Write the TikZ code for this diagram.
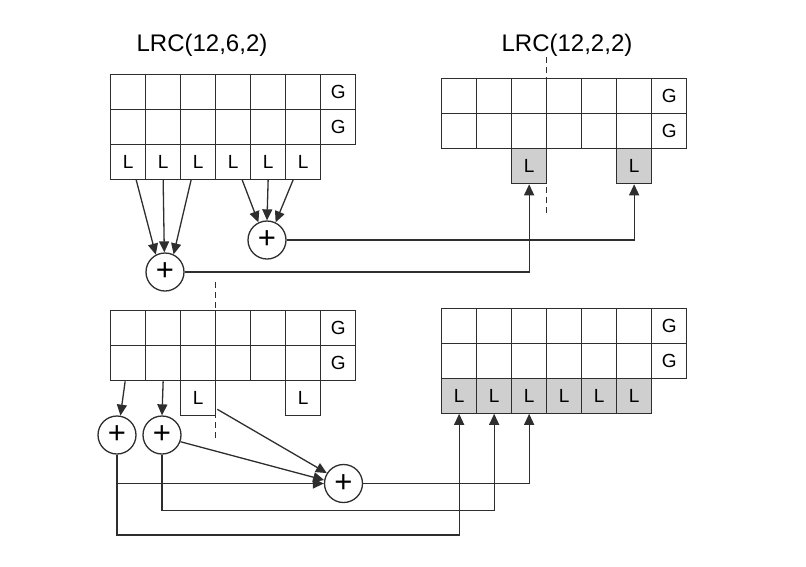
\documentclass[tikz,border=0pt]{standalone}
\usepackage{fontspec}
\setmainfont{Liberation Sans}
\usetikzlibrary{arrows.meta,calc}
\begin{document}
\begin{tikzpicture}[x=1pt,y=-1pt,
  cellbox/.style={draw=black!82, line width=1.3pt, minimum size=35pt, inner sep=0pt, font=\fontsize{19}{19}\selectfont, anchor=north west},
  shaded/.style={fill=black!19},
  xor/.style={circle, draw=black!82, fill=white, line width=1.3pt, minimum size=38pt, inner sep=0pt, font=\fontsize{31}{31}\selectfont},
  arr/.style={draw=black!82, line width=1.3pt, -{Triangle[length=11pt,width=10pt]}},
  cut/.style={draw=black!82, line width=1pt, dash pattern=on 6pt off 4pt},
  title/.style={font=\fontsize{24}{24}\selectfont}
]
\useasboundingbox (0,0) rectangle (806,566);

% titles
\node[title] (t1) at (202,45) {LRC(12,6,2)};
\node[title] (t2) at (567,45) {LRC(12,2,2)};

% top-left grid
\foreach \r in {1,2}
  \foreach \c in {1,...,7}
    \node[cellbox] (a\r\c) at ({110+35*(\c-1)},{73.5+35*(\r-1)}) {\ifnum\c=7 G\fi};
\foreach \c in {1,...,6}
  \node[cellbox] (aL\c) at ({110+35*(\c-1)},143.5) {L};

% top-right grid
\foreach \r in {1,2}
  \foreach \c in {1,...,7}
    \node[cellbox] (b\r\c) at ({441+35*(\c-1)},{78+35*(\r-1)}) {\ifnum\c=7 G\fi};
\node[cellbox,shaded] (bL3) at (511,148) {L};
\node[cellbox,shaded] (bL6) at (616,148) {L};

% bottom-left grid
\foreach \r in {1,2}
  \foreach \c in {1,...,7}
    \node[cellbox] (c\r\c) at ({110+35*(\c-1)},{310+35*(\r-1)}) {\ifnum\c=7 G\fi};
\node[cellbox] (cL3) at (180,380) {L};
\node[cellbox] (cL6) at (285,380) {L};

% bottom-right grid
\foreach \r in {1,2}
  \foreach \c in {1,...,7}
    \node[cellbox] (d\r\c) at ({441+35*(\c-1)},{307.5+35*(\r-1)}) {\ifnum\c=7 G\fi};
\foreach \c in {1,...,6}
  \node[cellbox,shaded] (dL\c) at ({441+35*(\c-1)},377.5) {L};

% dashed cut lines
\draw[cut] (546.5,57) -- (546.5,214);
\draw[cut] (215,282) -- (215,440);

% xor circles
\node[xor] (p1) at (165,272) {+};
\node[xor] (p2) at (267,240) {+};
\node[xor] (pa) at (117,435) {+};
\node[xor] (pb) at (162,435) {+};
\node[xor] (pc) at (343.5,483.5) {+};

% top connectors
\draw[arr] ($(aL1.south)+(8,0)$) -- (p1.118);
\draw[arr] (aL2.south) -- (p1.92);
\draw[arr] ($(aL3.south)+(-7,0)$) -- (p1.64);
\draw[arr] ($(aL4.south)+(9,0)$) -- (p2.116);
\draw[arr] (aL5.south) -- (p2.90);
\draw[arr] ($(aL6.south)+(-10,0)$) -- (p2.64);
\draw[arr] (p2.east) -| (bL6.south);
\draw[arr] (p1.east) -| (bL3.south);

% bottom connectors
\coordinate (ya) at (0,535);
\coordinate (yb) at (0,510.5);
\draw[arr] ($(c21.south)+(-3,0)$) -- (pa.80);
\draw[arr] (c22.south) -- (pb.north);
\draw[arr] ($(cL3.south east)+(1,-7)$) -- (pc.148);
\draw[arr] (pb.-20) -- (pc.170);
\draw[arr] (pa.south) -- (pa.south |- ya) -| (dL1.south);
\draw[arr] (pb.south) -- (pb.south |- yb) -| (dL2.south);
\draw[arr] (pa.south |- pc.west) -- (pc.west);
\draw[arr] (pc.east) -| (dL3.south);
\end{tikzpicture}
\end{document}
